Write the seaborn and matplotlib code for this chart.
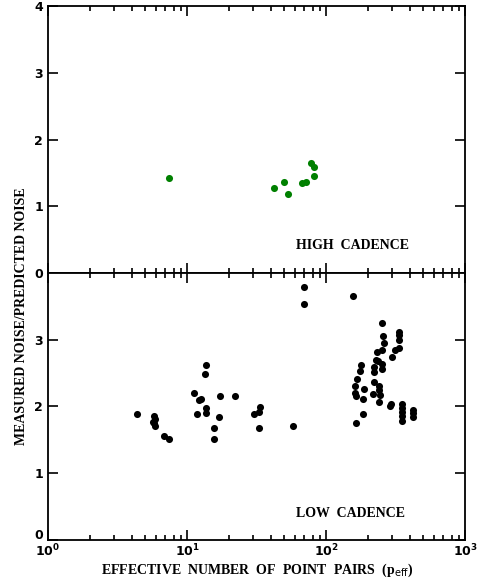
import numpy as np
import pandas as pd
import matplotlib
matplotlib.use("Agg")
import matplotlib.pyplot as plt
import matplotlib.transforms as mtransforms
import seaborn as sns
from matplotlib.ticker import LogLocator, NullFormatter, MultipleLocator

# high cadence (green) points
high_x = [7.4, 42.0, 50.1, 53.3, 67.2, 71.8, 77.6, 82.0, 81.5]
high_y = [1.43, 1.27, 1.36, 1.18, 1.35, 1.36, 1.65, 1.59, 1.46]

# low cadence (black) points
low_x = [4.35, 5.79, 5.89, 5.66, 5.89, 5.8, 6.87, 7.46,
         11.3, 12.1, 12.6, 11.8, 13.7, 13.5, 13.8, 13.8,
         17.3, 17.0, 15.6, 15.6, 22.0,
         33.7, 32.8, 30.5, 33.0, 57.9, 69.8, 69.8, 157,
         254, 257, 261, 254, 233, 229, 236, 254, 251,
         220, 220, 220, 218, 241, 241, 243, 242,
         180, 175, 168, 162, 162, 163, 188, 185, 185, 165,
         337, 337, 337, 333, 312, 298,
         294, 289, 350, 350, 350, 350, 350, 421, 421, 421]
low_y = [1.88, 1.85, 1.81, 1.77, 1.71, 1.75, 1.56, 1.51,
         2.20, 2.10, 2.11, 1.89, 2.62, 2.49, 1.98, 1.90,
         2.16, 1.84, 1.67, 1.51, 2.15,
         1.99, 1.92, 1.89, 1.67, 1.70, 3.79, 3.54, 3.65,
         3.25, 3.05, 2.95, 2.84, 2.81, 2.70, 2.68, 2.64, 2.56,
         2.59, 2.51, 2.37, 2.19, 2.30, 2.25, 2.17, 2.06,
         2.62, 2.53, 2.41, 2.30, 2.20, 2.15, 2.26, 2.11, 1.88, 1.75,
         3.12, 3.07, 3.00, 2.87, 2.84, 2.74,
         2.04, 2.01, 2.04, 1.97, 1.91, 1.86, 1.78, 1.95, 1.90, 1.84]

high = pd.DataFrame({"peff": high_x, "ratio": high_y})
low = pd.DataFrame({"peff": low_x, "ratio": low_y})

sns.set_style("ticks", {"axes.edgecolor": "black", "text.color": "black",
                        "xtick.color": "black", "ytick.color": "black"})
tick_font = "DejaVu Sans"
label_font = "Liberation Serif"

fig = plt.figure(figsize=(4.86, 5.81), dpi=100)
ax_top = fig.add_axes([0.0988, 0.530, 0.858, 0.4596])
ax_bot = fig.add_axes([0.0988, 0.0706, 0.858, 0.4596])

sns.scatterplot(data=high, x="peff", y="ratio", ax=ax_top, color="#008000",
                s=26, linewidth=0, legend=False)
sns.scatterplot(data=low, x="peff", y="ratio", ax=ax_bot, color="black",
                s=26, linewidth=0, legend=False)

for ax in (ax_top, ax_bot):
    ax.set_xscale("log")
    ax.set_xlim(1, 1000)
    ax.set_ylim(0, 4)
    ax.set_xlabel("")
    ax.set_ylabel("")
    ax.xaxis.set_major_locator(LogLocator(base=10, numticks=10))
    ax.xaxis.set_minor_locator(LogLocator(base=10, subs=np.arange(2, 10), numticks=30))
    ax.xaxis.set_minor_formatter(NullFormatter())
    ax.yaxis.set_major_locator(MultipleLocator(1))
    ax.tick_params(which="both", direction="in", top=True, right=True,
                   width=1.2, labelsize=9, colors="black")
    ax.tick_params(which="major", length=7)
    ax.tick_params(which="minor", length=3.5)
    ax.tick_params(axis="x", pad=2)
    for sp in ax.spines.values():
        sp.set_linewidth(1.3)
        sp.set_color("black")
    for lab in ax.get_yticklabels() + ax.get_xticklabels():
        lab.set_fontweight("bold")
        lab.set_family(tick_font)

ax_top.tick_params(labelbottom=False)
ax_bot.set_yticks([0, 1, 2, 3])
ax_bot.set_yticklabels(["0", "1", "2", "3"], fontweight="bold", family=tick_font)
ax_top.set_yticks([0, 1, 2, 3, 4])
ax_top.set_yticklabels(["0", "1", "2", "3", "4"], fontweight="bold", family=tick_font)

# lift the bottom "0" a touch so it clears the 10^0 label
zero_lab = ax_bot.get_yticklabels()[0]
zero_lab.set_transform(zero_lab.get_transform() +
                       mtransforms.ScaledTranslation(0, 4 / 72, fig.dpi_scale_trans))

ax_top.text(0.595, 0.09, "HIGH  CADENCE", transform=ax_top.transAxes,
            fontsize=10, fontweight="bold", family=label_font, color="black")
ax_bot.text(0.595, 0.086, "LOW  CADENCE", transform=ax_bot.transAxes,
            fontsize=10, fontweight="bold", family=label_font, color="black")

fig.text(0.53, 0.019, r"EFFECTIVE  NUMBER  OF  POINT  PAIRS  (p$_{\rm eff}$)",
         ha="center", va="center", fontsize=10, fontweight="bold",
         family=label_font, color="black")
fig.text(0.045, 0.455, "MEASURED NOISE/PREDICTED NOISE", rotation=90,
         ha="center", va="center", fontsize=10, fontweight="bold",
         family=label_font, color="black")

fig.savefig("out.png", dpi=100)
